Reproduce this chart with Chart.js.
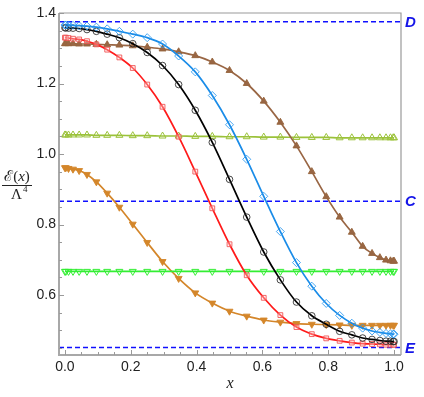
<!DOCTYPE html>
<html>
<head>
<meta charset="utf-8">
<script src="https://cdn.jsdelivr.net/npm/chart.js@4/dist/chart.umd.min.js"></script>
<style>
  body { margin: 0; background: #fff; }
  canvas { display: block; }
</style>
</head>
<body>
<canvas id="chart" width="424" height="397"></canvas>
<script>
// sample points (denser near both ends)
var xNodes = [0, 0.0027, 0.0109, 0.0245, 0.0432, 0.0670, 0.0955, 0.1284, 0.1654, 0.2061, 0.25,
  0.2966, 0.3455, 0.3960, 0.4477, 0.5, 0.5523, 0.6040, 0.6545, 0.7034, 0.75,
  0.7939, 0.8346, 0.8716, 0.9045, 0.9330, 0.9568, 0.9755, 0.9891, 0.9973, 1];

var blueVals = [1.366, 1.366, 1.366, 1.365, 1.364, 1.363, 1.360, 1.355, 1.348, 1.340, 1.330,
  1.312, 1.278, 1.233, 1.166, 1.083, 0.985, 0.880, 0.780, 0.692, 0.625,
  0.576, 0.542, 0.520, 0.506, 0.498, 0.494, 0.491, 0.490, 0.489, 0.489];
var blackVals = [1.358, 1.358, 1.357, 1.357, 1.356, 1.353, 1.348, 1.340, 1.330, 1.313, 1.288,
  1.251, 1.197, 1.124, 1.033, 0.928, 0.821, 0.722, 0.643, 0.580, 0.541,
  0.517, 0.497, 0.487, 0.478, 0.474, 0.471, 0.469, 0.469, 0.468, 0.468];
var redVals = [1.330, 1.330, 1.329, 1.327, 1.325, 1.320, 1.311, 1.296, 1.274, 1.244, 1.197,
  1.134, 1.049, 0.950, 0.846, 0.744, 0.656, 0.592, 0.543, 0.509, 0.489,
  0.477, 0.470, 0.465, 0.462, 0.461, 0.460, 0.459, 0.459, 0.459, 0.459];
var brownVals = [1.313, 1.313, 1.313, 1.313, 1.312, 1.312, 1.311, 1.310, 1.309, 1.307, 1.303,
  1.298, 1.290, 1.279, 1.261, 1.237, 1.200, 1.150, 1.090, 1.023, 0.950,
  0.879, 0.821, 0.778, 0.738, 0.718, 0.706, 0.699, 0.697, 0.696, 0.696];
var oliveVals = [1.054, 1.054, 1.054, 1.054, 1.054, 1.054, 1.053, 1.053, 1.053, 1.052, 1.052,
  1.051, 1.051, 1.050, 1.050, 1.049, 1.049, 1.048, 1.048, 1.047, 1.047,
  1.047, 1.046, 1.046, 1.046, 1.046, 1.046, 1.046, 1.046, 1.046, 1.046];
var greenVals = [0.667, 0.667, 0.667, 0.667, 0.667, 0.667, 0.667, 0.667, 0.667, 0.667, 0.667,
  0.667, 0.667, 0.667, 0.667, 0.667, 0.667, 0.667, 0.667, 0.667, 0.667,
  0.667, 0.667, 0.667, 0.667, 0.667, 0.667, 0.667, 0.667, 0.667, 0.667];
var orangeVals = [0.961, 0.961, 0.959, 0.957, 0.953, 0.942, 0.921, 0.889, 0.849, 0.801, 0.749,
  0.695, 0.647, 0.606, 0.577, 0.554, 0.540, 0.529, 0.523, 0.519, 0.517,
  0.516, 0.515, 0.514, 0.514, 0.514, 0.514, 0.514, 0.514, 0.514, 0.514];

// dashed reference levels
var refLevels = [1.375, 0.866, 0.451];
var refNames = ["D", "C", "E"];

var xTickVals = [0, 0.2, 0.4, 0.6, 0.8, 1.0];
var yTickVals = [0.6, 0.8, 1.0, 1.2, 1.4];

var X_MIN = -0.018, X_MAX = 1.021, Y_MIN = 0.4298, Y_MAX = 1.4;

function pts(vals) {
  return xNodes.map(function (x, i) { return { x: x, y: vals[i] }; });
}

function curve(vals, line, mark, style, fill, radius, rot) {
  return {
    data: pts(vals),
    borderColor: line,
    borderWidth: 1.7,
    cubicInterpolationMode: "monotone",
    pointStyle: style,
    pointRadius: radius,
    pointRotation: rot || 0,
    pointBorderColor: mark,
    pointBackgroundColor: fill,
    pointBorderWidth: 1,
  };
}

var datasets = [
  curve(blueVals, "#1a8ce8", "rgba(40,150,240,0.85)", "rectRot", "rgba(255,255,255,0)", 4),
  curve(blackVals, "#000000", "rgba(40,40,40,0.85)", "circle", "rgba(255,255,255,0)", 3.3),
  curve(redVals, "#ff1a1a", "rgba(240,80,80,0.85)", "rect", "rgba(255,220,220,0.35)", 3.4),
  curve(brownVals, "#996644", "rgba(150,100,60,0.9)", "triangle", "#996644", 4),
  curve(oliveVals, "#9bc23a", "#9bc23a", "triangle", "rgba(255,255,255,0)", 4),
  curve(greenVals, "#33ee33", "#33ee33", "triangle", "rgba(255,255,255,0)", 4, 180),
  curve(orangeVals, "#d4862a", "rgba(212,134,42,0.9)", "triangle", "#d4862a", 4, 180),
];

refLevels.forEach(function (lv) {
  datasets.push({
    data: [{ x: X_MIN, y: lv }, { x: X_MAX, y: lv }],
    borderColor: "#1010ff",
    borderWidth: 1.5,
    borderDash: [5, 3],
    pointRadius: 0,
  });
});

var decorPlugin = {
  id: "decor",
  afterDraw: function (chart) {
    var ctx = chart.ctx, a = chart.chartArea, xs = chart.scales.x, ys = chart.scales.y;
    ctx.save();
    // frame
    ctx.strokeStyle = "#9a9a9a";
    ctx.lineWidth = 1.2;
    ctx.beginPath();
    ctx.moveTo(a.left, a.top); ctx.lineTo(a.right, a.top); ctx.lineTo(a.right, a.bottom);
    ctx.stroke();
    ctx.strokeStyle = "#a8a8a8";
    ctx.lineWidth = 2;
    ctx.beginPath();
    ctx.moveTo(a.left, a.top); ctx.lineTo(a.left, a.bottom); ctx.lineTo(a.right, a.bottom);
    ctx.stroke();

    // inward ticks, major every 0.2, minor every 0.05
    ctx.strokeStyle = "#9a9a9a";
    ctx.lineWidth = 1;
    ctx.beginPath();
    for (var i = 0; i <= 20; i++) {
      var px = Math.round(xs.getPixelForValue(i * 0.05)) + 0.5;
      var len = i % 4 === 0 ? 5 : 3;
      ctx.moveTo(px, a.bottom); ctx.lineTo(px, a.bottom - len);
    }
    for (var j = 9; j <= 28; j++) {
      var py = Math.round(ys.getPixelForValue(j * 0.05)) + 0.5;
      var len2 = j % 4 === 0 ? 5 : 3;
      ctx.moveTo(a.left, py); ctx.lineTo(a.left + len2, py);
    }
    ctx.stroke();

    // D, C, E labels
    ctx.fillStyle = "#1515e8";
    ctx.font = "italic bold 15px 'Liberation Sans'";
    ctx.textAlign = "left";
    ctx.textBaseline = "middle";
    refLevels.forEach(function (lv, k) {
      ctx.fillText(refNames[k], a.right + 4, ys.getPixelForValue(lv) + 1);
    });

    // x axis title
    ctx.fillStyle = "#222";
    ctx.font = "italic 16px 'Liberation Serif'";
    ctx.textAlign = "center";
    ctx.textBaseline = "alphabetic";
    ctx.fillText("x", (a.left + a.right) / 2, 388);

    // y axis title as a fraction
    var cx = 17;
    ctx.textAlign = "left";
    var parts = [
      ["ℰ", "15px 'DejaVu Serif'"],
      ["(", "15px 'Liberation Serif'"],
      ["x", "italic 15px 'Liberation Serif'"],
      [")", "15px 'Liberation Serif'"],
    ];
    var w = 0;
    parts.forEach(function (p) { ctx.font = p[1]; w += ctx.measureText(p[0]).width; });
    var sx = cx - w / 2;
    parts.forEach(function (p) {
      ctx.font = p[1];
      ctx.fillText(p[0], sx, 181);
      sx += ctx.measureText(p[0]).width;
    });
    ctx.strokeStyle = "#222";
    ctx.lineWidth = 1;
    ctx.beginPath();
    ctx.moveTo(cx - 15, 185.5); ctx.lineTo(cx + 15, 185.5);
    ctx.stroke();
    ctx.font = "15px 'Liberation Serif'";
    var lw = ctx.measureText("Λ").width;
    ctx.fillText("Λ", cx - 6, 199);
    ctx.font = "9px 'Liberation Serif'";
    ctx.fillText("4", cx - 6 + lw + 1, 192);
    ctx.restore();
  }
};

new Chart(document.getElementById("chart"), {
  type: "line",
  data: { datasets: datasets },
  options: {
    responsive: false,
    devicePixelRatio: 1,
    animation: false,
    layout: { padding: { left: 0, right: 23, top: 13, bottom: 0 } },
    plugins: { legend: { display: false }, tooltip: { enabled: false } },
    scales: {
      x: {
        type: "linear",
        min: X_MIN,
        max: X_MAX,
        grid: { display: false, drawTicks: false },
        border: { display: false },
        afterBuildTicks: function (s) { s.ticks = xTickVals.map(function (v) { return { value: v }; }); },
        afterFit: function (s) { s.height = 42; },
        ticks: {
          padding: 4,
          color: "#222",
          font: { family: "Liberation Sans", size: 14 },
          maxRotation: 0,
          callback: function (v) { return v.toFixed(1); }
        }
      },
      y: {
        min: Y_MIN,
        max: Y_MAX,
        grid: { display: false, drawTicks: false },
        border: { display: false },
        afterBuildTicks: function (s) { s.ticks = yTickVals.map(function (v) { return { value: v }; }); },
        afterFit: function (s) { s.width = 59; },
        ticks: {
          padding: 3,
          color: "#222",
          font: { family: "Liberation Sans", size: 14 },
          callback: function (v) { return v.toFixed(1); }
        }
      }
    }
  },
  plugins: [decorPlugin]
});
</script>
</body>
</html>
